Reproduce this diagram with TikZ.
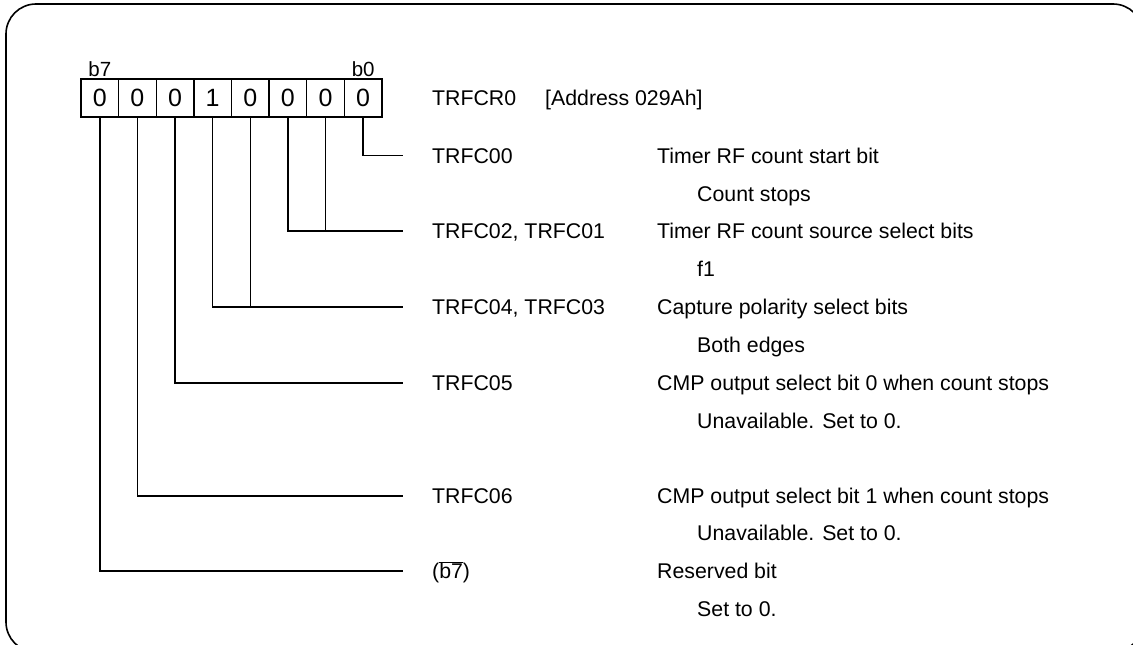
\documentclass[tikz,border=0pt]{standalone}
\usepackage{fontspec}
\setmainfont{Liberation Sans}
\begin{document}
\begin{tikzpicture}[x=1pt,y=-1pt,
  ln/.style={line width=1.4pt},
  cell/.style={draw,line width=1.4pt,minimum width=37.625pt,minimum height=38pt,inner sep=0pt,font=\fontsize{25}{29}\selectfont},
  blab/.style={anchor=base,inner sep=0pt,font=\fontsize{20.5}{24}\selectfont},
  lbl/.style={anchor=base west,inner sep=0pt,font=\fontsize{21.3}{25}\selectfont}]
\path[use as bounding box] (0,0) rectangle (1133,645);
\begin{scope}
\clip (0,0) rectangle (1133,645);
\draw[line width=1.6pt,rounded corners=30pt] (6,4) rectangle (1143,652);
\end{scope}
% register cells
\foreach \k/\v [count=\i from 0] in {7/0,6/0,5/0,4/1,3/0,2/0,1/0,0/0}{
  \node[cell] (c\k) at (99.8+37.625*\i,98) {\v};
}
\node[blab] (b7) at (c7.north) [yshift=2pt] {b7};
\node[blab] (b0) at (c0.north) [yshift=2pt] {b0};
% end coordinates of the connectors
\coordinate (e0) at (403,155.7);
\coordinate (e1) at (403,231);
\coordinate (e2) at (403,307);
\coordinate (e3) at (403,383);
\coordinate (e4) at (403,496);
\coordinate (e5) at (403,571);
\draw[ln] (c0.south) |- (e0);
\draw[ln] (c2.south) |- (e1);
\draw[ln] (c1.south) -- (c1.south |- e1);
\draw[ln] (c4.south) |- (e2);
\draw[ln] (c3.south) -- (c3.south |- e2);
\draw[ln] (c5.south) |- (e3);
\draw[ln] (c6.south) |- (e4);
\draw[ln] (c7.south) |- (e5);
% texts
\node[lbl] (reg) at (432,105.6) {TRFCR0};
\node[lbl] (addr) at (545,105.6) {[Address 029Ah]};
\node[lbl] (n0) at (432,163.3) {TRFC00};
\node[lbl] (d0) at (657,163.3) {Timer RF count start bit};
\node[lbl] (s0) at (697,201) {Count stops};
\node[lbl] (n1) at (432,238.6) {TRFC02, TRFC01};
\node[lbl] (d1) at (657,238.6) {Timer RF count source select bits};
\node[lbl] (s1) at (697,276.6) {f1};
\node[lbl] (n2) at (432,314.6) {TRFC04, TRFC03};
\node[lbl] (d2) at (657,314.6) {Capture polarity select bits};
\node[lbl] (s2) at (697,352.6) {Both edges};
\node[lbl] (n3) at (432,390.6) {TRFC05};
\node[lbl] (d3) at (657,390.6) {CMP output select bit 0 when count stops};
\node[lbl] (s3) at (697,428.6) {Unavailable. Set to 0.};
\node[lbl] (n4) at (432,503.6) {TRFC06};
\node[lbl] (d4) at (657,503.6) {CMP output select bit 1 when count stops};
\node[lbl] (s4) at (697,540.6) {Unavailable. Set to 0.};
\node[lbl] (n5) at (432,578.6) {(\ensuremath{\overline{\hbox{b7}}})};
\node[lbl] (d5) at (657,578.6) {Reserved bit};
\node[lbl] (s5) at (697,616.6) {Set to 0.};
\end{tikzpicture}
\end{document}
